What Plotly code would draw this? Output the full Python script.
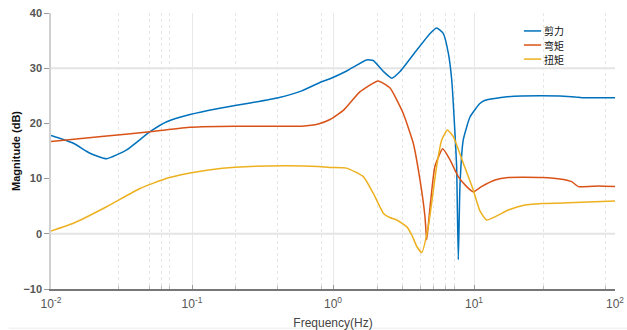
import plotly.graph_objects as go

# ---- data ----
freq_shear = [0.01, 0.0144, 0.0189, 0.0248, 0.0344, 0.0504, 0.0662, 0.0968, 0.154, 0.265,
              0.409, 0.600, 0.832, 0.953, 1.25, 1.73, 1.93, 2.28, 2.61, 2.99,
              3.93, 4.88, 5.43, 6.05, 6.58, 6.95, 7.33, 7.53, 7.74, 7.96,
              8.39, 9.38, 11.0, 12.0, 16.6, 30.2, 52.0, 58.1, 100]
mag_shear = [17.8, 16.4, 14.6, 13.6, 15.2, 18.5, 20.3, 21.6, 22.7, 23.75,
             24.65, 25.9, 27.55, 28.1, 29.5, 31.5, 31.4, 29.4, 28.2, 29.4,
             33.3, 36.3, 37.3, 36.3, 32.7, 27.9, 18.2, 12.2, -4.7, 9.1,
             17.0, 21.2, 23.6, 24.2, 24.8, 25.0, 24.8, 24.65, 24.65]

freq_bend = [0.01, 0.0248, 0.0504, 0.0968, 0.117, 0.202, 0.600, 0.787, 0.953, 1.19,
             1.55, 2.09, 2.54, 3.15, 3.71, 4.14, 4.49, 4.62, 4.88, 5.28,
             6.00, 6.76, 7.74, 8.87, 9.89, 11.3, 14.1, 17.5, 30.2, 41.9,
             49.3, 55.0, 76.2, 100]
mag_bend = [16.7, 17.7, 18.5, 19.3, 19.4, 19.5, 19.5, 19.9, 20.7, 22.4,
            25.7, 27.7, 26.4, 21.8, 16.4, 9.75, 3.1, -1.1, 4.9, 12.2,
            15.4, 13.4, 10.35, 8.55, 7.6, 8.55, 9.75, 10.2, 10.2, 9.9,
            9.45, 8.55, 8.65, 8.55]

freq_torsion = [0.01, 0.0144, 0.0248, 0.0428, 0.0662, 0.0968, 0.131, 0.202, 0.457, 0.787,
                0.953, 1.25, 1.64, 1.93, 2.28, 2.55, 2.83, 3.33, 3.65, 3.93, 4.26, 4.74,
                5.43, 5.90, 6.47, 7.13, 8.39, 9.89, 11.0, 12.3, 17.5, 23.0,
                30.2, 52.0, 100]
mag_torsion = [0.5, 1.9, 4.9, 8.2, 10.05, 11.0, 11.55, 12.05, 12.35, 12.2,
               12.0, 11.9, 10.35, 7.35, 3.7, 2.9, 2.5, 1.3, -0.4, -2.3, -3.4, 1.3,
               12.2, 17.0, 18.8, 17.6, 12.8, 7.9, 4.2, 2.5, 4.3, 5.2,
               5.5, 5.65, 5.95]

series_names = ["剪力", "弯矩", "扭矩"]
series_colors = ["#0072BD", "#D95319", "#EDB120"]

x_tick_vals = [0.01, 0.1, 1, 10, 100]
x_tick_text = ["10<sup>-2</sup>", "10<sup>-1</sup>", "10<sup>0</sup>", "10<sup>1</sup>", "10<sup>2</sup>"]
x_minor_vals = [0.0299, 0.0496, 0.0603, 0.0698, 0.205, 0.407, 0.822,
                2.08, 3.13, 4.14, 5.2, 6.32, 7.33, 31.3, 86]
y_tick_vals = [-10, 0, 10, 20, 30, 40]
y_grid_vals = [0, 30]

# ---- figure ----
fig = go.Figure()
series = [(freq_shear, mag_shear), (freq_bend, mag_bend), (freq_torsion, mag_torsion)]
for (f, m), name, color in zip(series, series_names, series_colors):
    fig.add_trace(go.Scatter(x=f, y=m, mode="lines", name=name, showlegend=False,
                             line=dict(color=color, width=1.5, shape="spline", smoothing=0.45)))

shapes = []
for gy in y_grid_vals:
    shapes.append(dict(type="line", xref="paper", yref="y", x0=0, x1=1, y0=gy, y1=gy,
                       line=dict(color="#e4e4e4", width=2), layer="below"))
# faint rule under the chart
shapes.append(dict(type="line", xref="paper", yref="paper", x0=-0.075, x1=1.03, y0=-0.142, y1=-0.142,
                   line=dict(color="#ececec", width=1)))

# manual compact legend
annotations = []
leg_x0, leg_x1 = 0.8385, 0.869
leg_y = [0.935, 0.884, 0.833]
for name, color, ly in zip(series_names, series_colors, leg_y):
    shapes.append(dict(type="line", xref="paper", yref="paper", x0=leg_x0, x1=leg_x1, y0=ly, y1=ly,
                       line=dict(color=color, width=1.5)))
    annotations.append(dict(xref="paper", yref="paper", x=leg_x1 + 0.002, y=ly, text=name,
                            showarrow=False, xanchor="left", yanchor="middle",
                            font=dict(family="Noto Sans CJK SC", size=10, color="#111")))

fig.update_layout(
    width=627, height=330,
    margin=dict(l=51, r=12, t=13, b=41),
    paper_bgcolor="white", plot_bgcolor="white",
    shapes=shapes, annotations=annotations,
    font=dict(family="Liberation Sans, Arial", color="#555"),
)
fig.update_xaxes(
    type="log", range=[-2, 2], automargin=False,
    tickmode="array", tickvals=x_tick_vals, ticktext=x_tick_text,
    tickfont=dict(size=12, color="#555"), ticklabelstandoff=3,
    showgrid=True, gridcolor="#e8e8e8", gridwidth=1,
    ticks="inside", ticklen=4, tickcolor="#999",
    showline=True, linecolor="#777", linewidth=1.5,
    minor=dict(tickmode="array", tickvals=x_minor_vals, showgrid=True, griddash="dot",
               gridcolor="#e6e6e6", gridwidth=1, ticks="inside", ticklen=3, tickcolor="#bbb"),
    title=dict(text="Frequency(Hz)", font=dict(size=12, color="#444"), standoff=9),
    zeroline=False,
)
fig.update_yaxes(
    range=[-10, 40], automargin=False, tickmode="array", tickvals=y_tick_vals,
    tickfont=dict(size=11, color="#555", weight="bold"),
    showgrid=False, zeroline=False,
    ticks="outside", ticklen=5, tickcolor="#999",
    showline=True, linecolor="#d0d0d0", linewidth=1.5,
    title=dict(text="Magnitude (dB)", font=dict(size=11, color="#111", weight="bold"), standoff=1),
)

fig.write_html("out.html", config={"displayModeBar": False},
               post_script="document.body.style.margin='0';")
